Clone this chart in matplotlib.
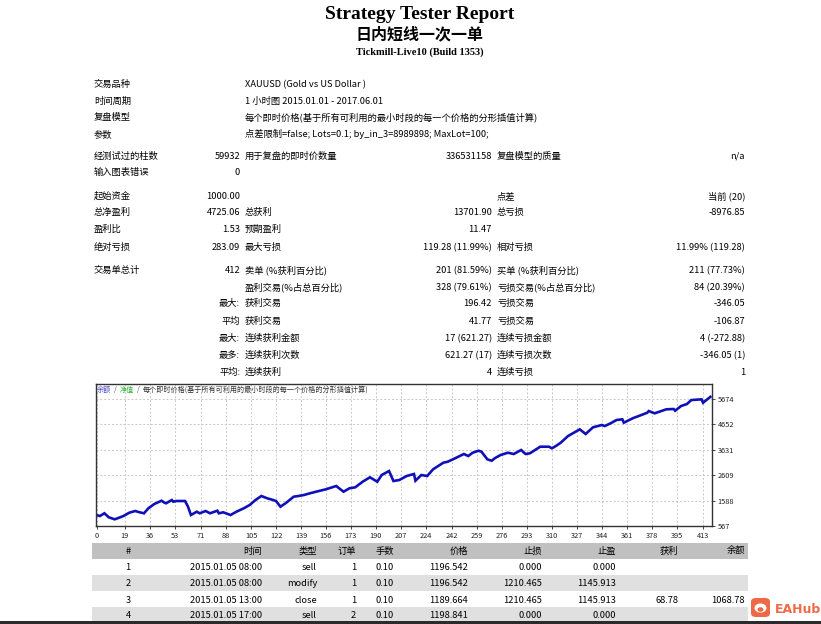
import matplotlib
matplotlib.use("Agg")
import matplotlib.pyplot as plt
from matplotlib.patches import Rectangle, FancyBboxPatch, Circle

# one family only: it covers latin and CJK, so every line shares one baseline
plt.rcParams['font.family'] = 'Noto Sans CJK SC'

W, H = 821, 624

# ---- report header ----
title = "Strategy Tester Report"
ea_name = "日内短线一次一单"
server = "Tickmill-Live10 (Build 1353)"

# ---- settings block ----
info_labels = ["交易品种", "时间周期", "复盘模型", "参数"]
info_values = ["XAUUSD (Gold vs US Dollar )",
               "1 小时图 2015.01.01 - 2017.06.01",
               "每个即时价格(基于所有可利用的最小时段的每一个价格的分形插值计算)",
               "点差限制=false; Lots=0.1; by_in_3=8989898; MaxLot=100;"]

# ---- statistics grid: label, value, label, value, label, value ----
stats_rows = [
    ["经测试过的柱数", "59932", "用于复盘的即时价数量", "336531158", "复盘模型的质量", "n/a"],
    ["输入图表错误", "0", "", "", "", ""],
    ["起始资金", "1000.00", "", "", "点差", "当前 (20)"],
    ["总净盈利", "4725.06", "总获利", "13701.90", "总亏损", "-8976.85"],
    ["盈利比", "1.53", "预期盈利", "11.47", "", ""],
    ["绝对亏损", "283.09", "最大亏损", "119.28 (11.99%)", "相对亏损", "11.99% (119.28)"],
    ["交易单总计", "412", "卖单 (%获利百分比)", "201 (81.59%)", "买单 (%获利百分比)", "211 (77.73%)"],
    ["", "", "盈利交易(%占总百分比)", "328 (79.61%)", "亏损交易(%占总百分比)", "84 (20.39%)"],
    ["", "最大:", "获利交易", "196.42", "亏损交易", "-346.05"],
    ["", "平均", "获利交易", "41.77", "亏损交易", "-106.87"],
    ["", "最大:", "连续获利金额", "17 (621.27)", "连续亏损金额", "4 (-272.88)"],
    ["", "最多:", "连续获利次数", "621.27 (17)", "连续亏损次数", "-346.05 (1)"],
    ["", "平均:", "连续获利", "4", "连续亏损", "1"],
]

# ---- balance curve ----
trade_idx = [0, 2, 5, 8, 12, 14, 18, 22, 26, 29,
             32, 35, 39, 44, 46, 47, 51, 52, 54, 60,
             62, 64, 68, 70, 74, 77, 82, 83, 86, 91,
             95, 100, 104, 108, 112, 116, 120, 122, 125, 129,
             134, 138, 141, 145, 152, 156, 163, 168, 172, 176,
             181, 186, 191, 194, 199, 202, 206, 211, 216, 217,
             221, 225, 229, 236, 239, 244, 250, 253, 256, 260,
             262, 266, 269, 271, 275, 280, 284, 289, 292, 295,
             302, 308, 310, 313, 316, 321, 329, 333, 338, 344,
             346, 350, 354, 358, 359, 365, 375, 376, 380, 388,
             393, 394, 398, 402, 405, 412, 413, 418]
balance = [1000, 969, 1078, 917, 836, 877, 969, 1102, 1170, 1118,
           1078, 1279, 1451, 1584, 1504, 1480, 1612, 1544, 1572, 1572,
           1343, 1009, 1142, 1078, 1170, 1078, 1182, 1078, 1118, 1009,
           1142, 1279, 1411, 1612, 1773, 1681, 1612, 1572, 1343, 1504,
           1745, 1780, 1813, 1881, 1986, 2043, 2175, 1946, 2083, 2123,
           2348, 2525, 2348, 2617, 2778, 2376, 2416, 2577, 2658, 2388,
           2617, 2577, 2846, 3112, 3152, 3289, 3462, 3381, 3514, 3594,
           3554, 3248, 3192, 3289, 3421, 3514, 3462, 3623, 3462, 3490,
           3755, 3755, 3691, 3795, 3916, 4185, 4454, 4266, 4535, 4627,
           4587, 4696, 4829, 4857, 4720, 4897, 5122, 5190, 5098, 5259,
           5271, 5202, 5391, 5471, 5632, 5660, 5524, 5760]
x_ticks = [0, 19, 36, 53, 71, 88, 105, 122, 139, 156, 173, 190, 207,
           224, 242, 259, 276, 293, 310, 327, 344, 361, 378, 395, 413]
y_ticks = [567, 1588, 2609, 3631, 4652, 5674]
chart_caption = "每个即时价格(基于所有可利用的最小时段的每一个价格的分形插值计算)"

# ---- trade list ----
table_header = ["#", "时间", "类型", "订单", "手数", "价格", "止损", "止盈", "获利", "余额"]
trade_no = ["1", "2", "3", "4"]
trade_time = ["2015.01.05 08:00", "2015.01.05 08:00", "2015.01.05 13:00", "2015.01.05 17:00"]
trade_type = ["sell", "modify", "close", "sell"]
trade_order = ["1", "1", "1", "2"]
trade_lots = ["0.10", "0.10", "0.10", "0.10"]
trade_price = ["1196.542", "1196.542", "1189.664", "1198.841"]
trade_sl = ["0.000", "1210.465", "1210.465", "0.000"]
trade_tp = ["0.000", "1145.913", "1145.913", "0.000"]
trade_profit = ["", "", "68.78", ""]
trade_balance = ["", "", "1068.78", ""]


fig = plt.figure(figsize=(W / 100, H / 100), dpi=100)
fig.patch.set_facecolor('white')

def put(x, y, s, ha='left', size=6.7, **kw):
    # y = visual middle of the line in pixels from the top; snap the baseline
    # to a whole pixel so that all strings of a row line up
    base = round(y + 0.37 * size * 100 / 72)
    fig.text(x / W, 1 - base / H, s, ha=ha, va='baseline', fontsize=size, **kw)

def box(x0, y0, x1, y1, color):
    fig.patches.append(Rectangle((x0 / W, 1 - y1 / H), (x1 - x0) / W, (y1 - y0) / H,
                                 transform=fig.transFigure, facecolor=color,
                                 edgecolor='none', zorder=0))

# header
put(420, 12, title, ha='center', size=14, family='Liberation Serif', weight='bold')
put(419, 33, ea_name, ha='center', size=11.5, weight='bold')
put(420, 51, server, ha='center', size=7.5, family='Liberation Serif', weight='bold')

# settings
for lab, val, y in zip(info_labels, info_values, [84, 101, 117, 134]):
    put(94, y, lab)
    put(245, y, val)

# statistics
col_x = [94, 240, 245, 492, 497, 745]
col_ha = ['left', 'right', 'left', 'right', 'left', 'right']
row_y = [156, 172, 196, 212, 229, 247, 270, 287, 303, 321, 338, 355, 372]
for row, y in zip(stats_rows, row_y):
    for s, x, ha in zip(row, col_x, col_ha):
        if s:
            put(x, y, s, ha=ha)

# balance chart
ax = fig.add_axes([96 / W, 1 - 526 / H, 616 / W, 142 / H])
ax.plot(trade_idx, balance, color='#1010b8', lw=1.9, solid_joinstyle='miter')
ax.set_xlim(-0.7, 419.1)
ax.set_ylim(567, 6277)
ax.set_xticks(x_ticks)
ax.set_yticks(y_ticks)
ax.yaxis.tick_right()
ax.tick_params(axis='both', labelsize=5.3, length=2, width=0.6, pad=2, colors='#222222')
ax.grid(True, color='#c8c8c8', linestyle=(0, (2, 2)), linewidth=0.7)
for sp in ax.spines.values():
    sp.set_color('#333333')
    sp.set_linewidth(1.0)
cap_y = 0.958
ax.text(0.002, cap_y, "余额", transform=ax.transAxes, fontsize=5.1, color='#5050c8', va='center')
ax.text(0.029, cap_y, "/", transform=ax.transAxes, fontsize=5.1, color='#555555', va='center')
ax.text(0.039, cap_y, "净值", transform=ax.transAxes, fontsize=5.1, color='#30b030', va='center')
ax.text(0.066, cap_y, "/", transform=ax.transAxes, fontsize=5.1, color='#555555', va='center')
ax.text(0.076, cap_y, chart_caption, transform=ax.transAxes, fontsize=5.1, color='#333333', va='center')

# trade table
box(92, 543, 748, 559, '#c0c0c0')
box(92, 575, 748, 591, '#e0e0e0')
box(92, 607, 748, 621, '#e0e0e0')
box(0, 621, W, H, '#2b2b2b')
tcol_x = [128, 262, 317, 356, 394, 468, 542, 616, 678, 745]
tcol_ha = ['center'] + ['right'] * 9
for s, x, ha in zip(table_header, tcol_x, tcol_ha):
    put(x, 551, s, ha=ha)
columns = [trade_no, trade_time, trade_type, trade_order, trade_lots,
           trade_price, trade_sl, trade_tp, trade_profit, trade_balance]
for i, y in enumerate([567, 583, 600, 615]):
    for col, x, ha in zip(columns, tcol_x, tcol_ha):
        if col[i]:
            put(x, y, col[i], ha=ha)

# EAHub badge
fig.patches.append(FancyBboxPatch((751 / W, 1 - 617 / H), 19 / W, 19 / H,
                                  boxstyle='round,pad=0,rounding_size=0.006',
                                  transform=fig.transFigure, facecolor='#ee6a47',
                                  edgecolor='none'))
fig.patches.append(Circle((760.5 / W, 1 - 608 / H), 6 / W, transform=fig.transFigure,
                          facecolor='white', edgecolor='none'))
fig.patches.append(Circle((760.5 / W, 1 - 609.5 / H), 3 / W, transform=fig.transFigure,
                          facecolor='#ee6a47', edgecolor='none'))
put(775, 608, "EAHub", size=9, color='#ee6a47', weight='bold', family='DejaVu Sans')

fig.savefig('out.png', dpi=100, facecolor='white')
